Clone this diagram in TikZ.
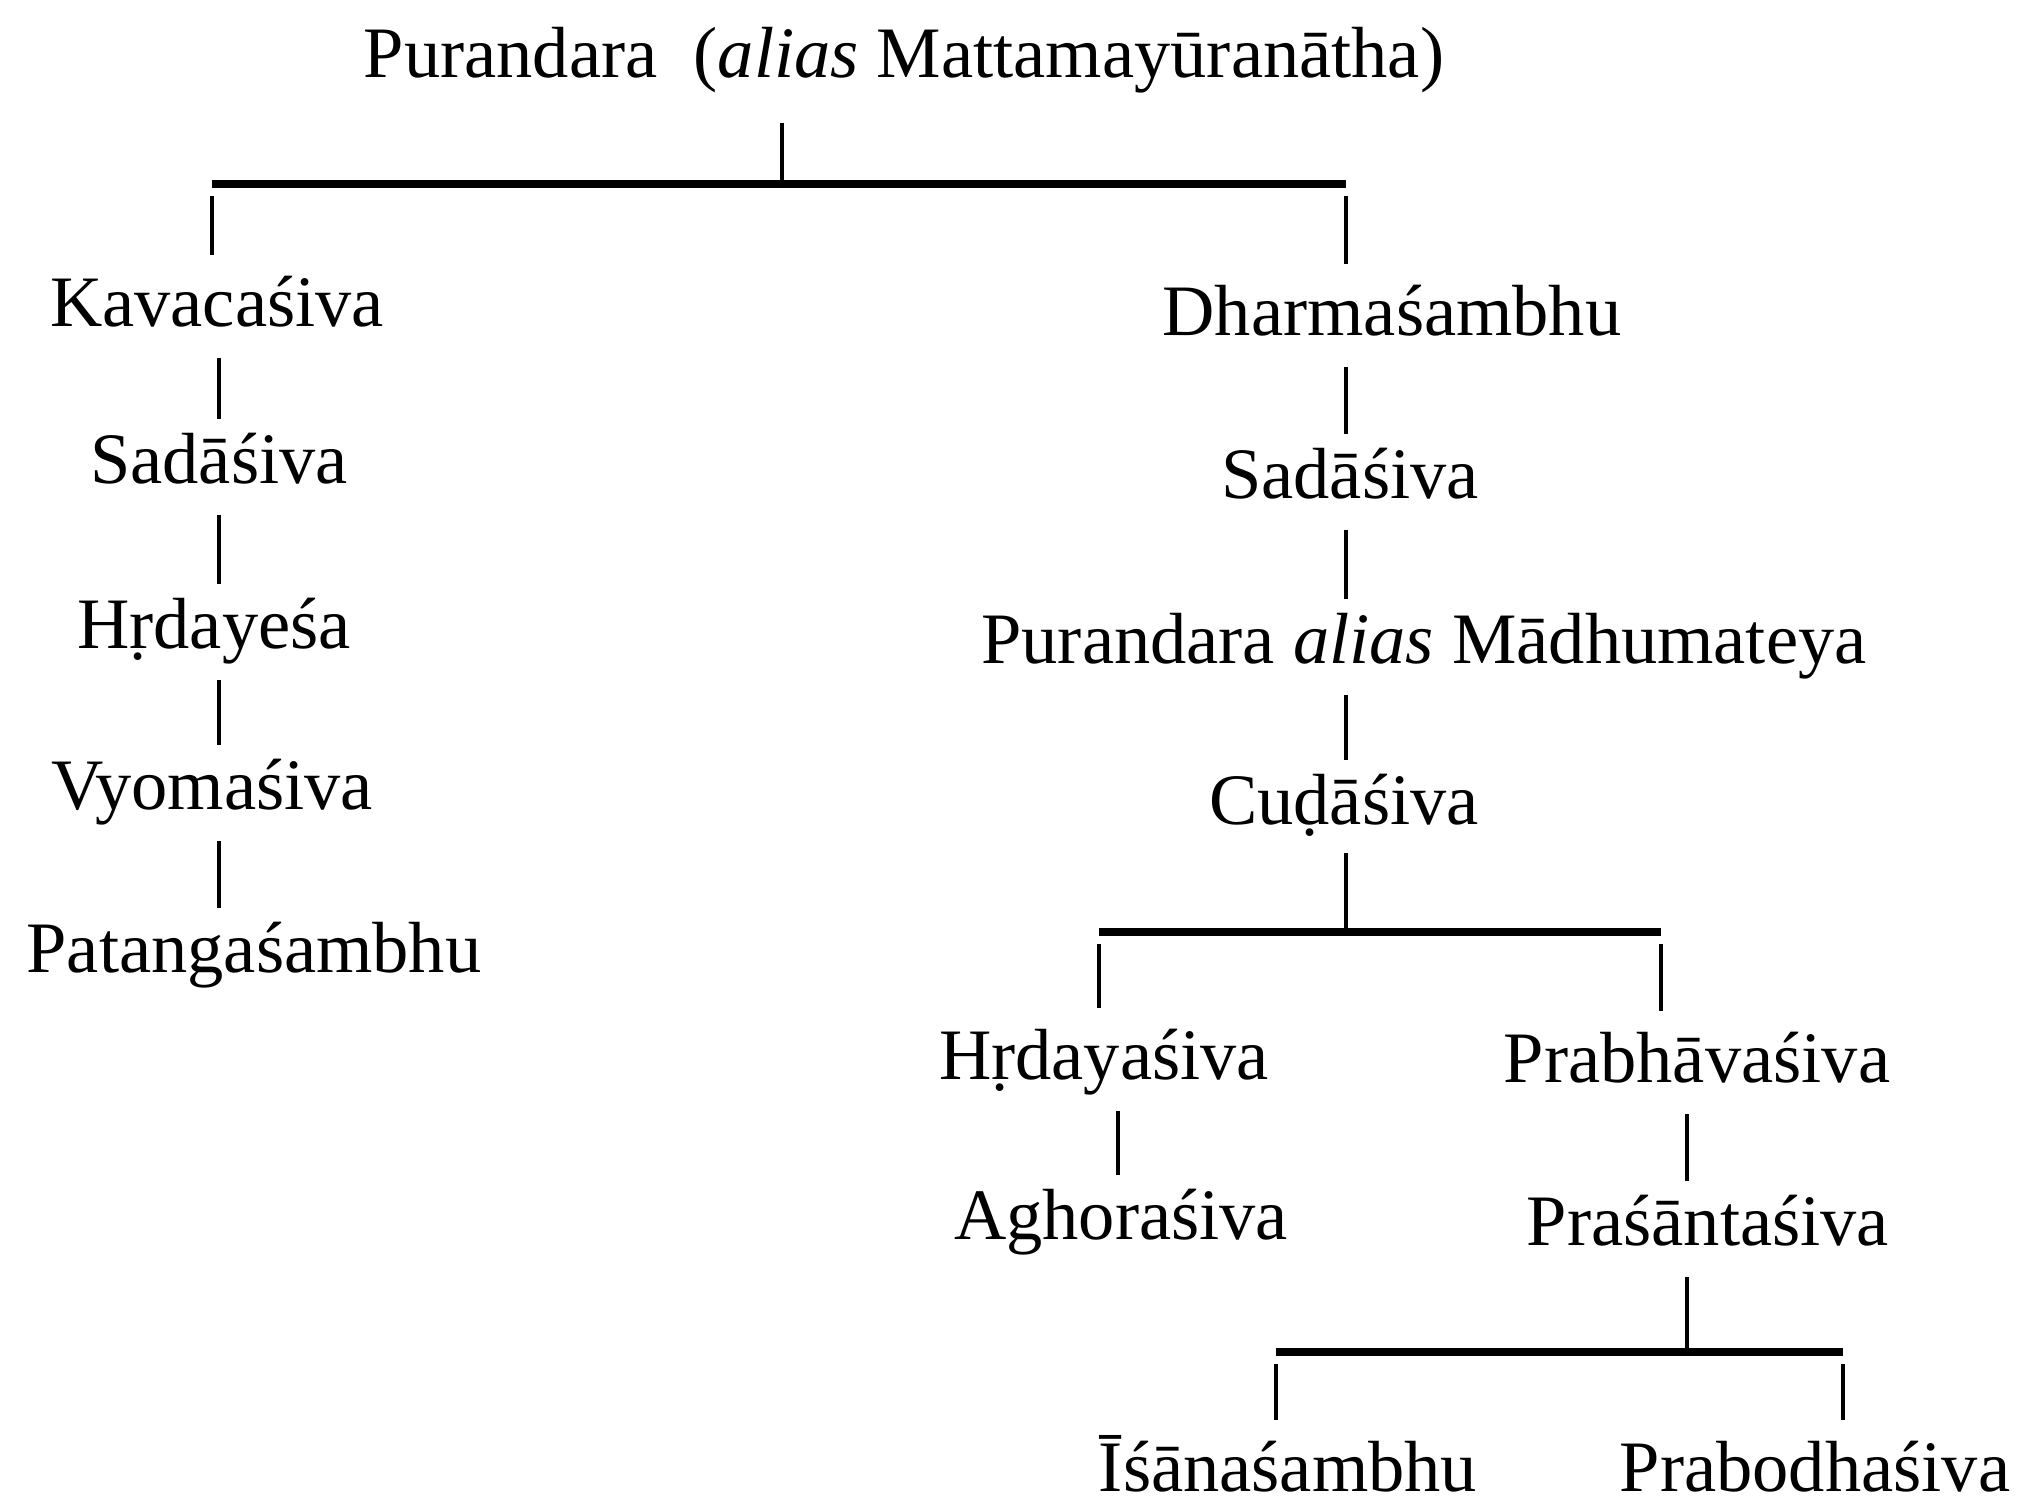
\documentclass[tikz,border=0pt]{standalone}
\usepackage{fontspec}
\setmainfont{Liberation Serif}
\usetikzlibrary{positioning}

\begin{document}
\begin{tikzpicture}[x=0.01cm,y=-0.01cm,-,shorten >=3.5pt,shorten <=3.5pt,line width=1.4pt,
                name node/.style={anchor=base,inner sep=0pt,text height=14pt,text depth=5pt,
                                  font=\fontsize{20.6}{24}\selectfont},
                bar/.style={line width=2.2pt,shorten >=0pt,shorten <=0pt},
                drop/.style={shorten <=3.5pt,shorten >=5.5pt}]
  \useasboundingbox (0,0) rectangle (2019,1511);

  % names
  \node[name node] (top) at (904,77) {Purandara\ \ (\textit{alias} Mattamayūranātha)};
  \node[name node] (kava) at (217,326) {Kavacaśiva};
  \node[name node] (sadaL) at (219,483) {Sadāśiva};
  \node[name node] (hrdL) at (214,648) {Hṛdayeśa};
  \node[name node] (vyoma) at (212,809) {Vyomaśiva};
  \node[name node] (patanga) at (254,972) {Patangaśambhu};
  \node[name node] (dharma) at (1392,335) {Dharmaśambhu};
  \node[name node] (sadaR) at (1350,498) {Sadāśiva};
  \node[name node] (purM) at (1424,663) {Purandara \textit{alias} Mādhumateya};
  \node[name node] (cuda) at (1344,824) {Cuḍāśiva};
  \node[name node] (hrdR) at (1104,1079) {Hṛdayaśiva};
  \node[name node] (aghora) at (1121,1239) {Aghoraśiva};
  \node[name node] (prabha) at (1697,1082) {Prabhāvaśiva};
  \node[name node] (prasa) at (1708,1245) {Praśāntaśiva};
  \node[name node] (isana) at (1288,1491) {Īśānaśambhu};
  \node[name node] (prabo) at (1815,1491) {Prabodhaśiva};

  % bars
  \coordinate (b1w) at (212,184);
  \coordinate (b1m) at (782,184);
  \coordinate (b1e) at (1346,184);
  \coordinate (b2w) at (1099,932);
  \coordinate (b2m) at (1346,932);
  \coordinate (b2e) at (1661,932);
  \coordinate (b3w) at (1276,1352);
  \coordinate (b3m) at (1687,1352);
  \coordinate (b3e) at (1843,1352);
  \coordinate (spineL) at (219,0);
  \coordinate (spineH) at (1118,0);
  \coordinate (spineP) at (1687,0);

  \path
    (b1w) edge [bar] (b1e)
    (b2w) edge [bar] (b2e)
    (b3w) edge [bar] (b3e)
    (top.south -| b1m) edge [shorten <=7.5pt,shorten >=1pt] (b1m)
    (b1w) edge [drop] (kava.north -| b1w)
    (b1e) edge [drop] (dharma.north -| b1e)
    (kava.south -| spineL) edge (sadaL.north -| spineL)
    (sadaL.south -| spineL) edge (hrdL.north -| spineL)
    (hrdL.south -| spineL) edge (vyoma.north -| spineL)
    (vyoma.south -| spineL) edge (patanga.north -| spineL)
    (dharma.south -| b1e) edge (sadaR.north -| b1e)
    (sadaR.south -| b1e) edge (purM.north -| b1e)
    (purM.south -| b1e) edge (cuda.north -| b1e)
    (cuda.south -| b2m) edge [shorten <=2.5pt,shorten >=1pt] (b2m)
    (b2w) edge [drop] (hrdR.north -| b2w)
    (b2e) edge [drop] (prabha.north -| b2e)
    (hrdR.south -| spineH) edge (aghora.north -| spineH)
    (prabha.south -| spineP) edge (prasa.north -| spineP)
    (prasa.south -| b3m) edge [shorten <=3.5pt,shorten >=1pt] (b3m)
    (b3w) edge [drop] (isana.north -| b3w)
    (b3e) edge [drop] (prabo.north -| b3e);

\end{tikzpicture}
\end{document}
